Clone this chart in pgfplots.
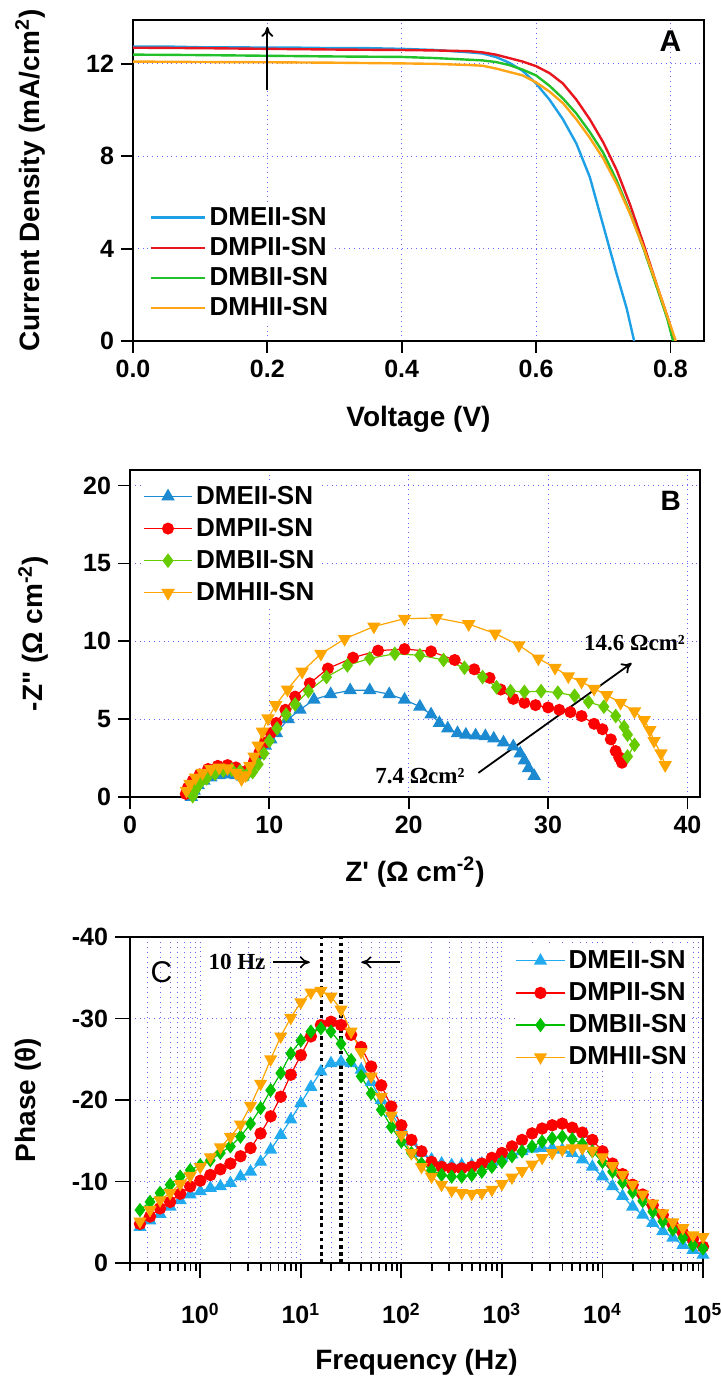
\documentclass[border=0pt]{standalone}
\usepackage{fontspec}
\setmainfont{Liberation Sans}[Ligatures=TeXOff]
\newfontfamily\serifb{Liberation Serif}
\usepackage{pgfplots}
\pgfplotsset{compat=1.18}
\usepackage{pgfplotstable}
\usetikzlibrary{arrows.meta}

\definecolor{aE}{RGB}{30,160,230}
\definecolor{aP}{RGB}{232,23,31}
\definecolor{aB}{RGB}{34,192,42}
\definecolor{aH}{RGB}{255,165,22}
\definecolor{bE}{RGB}{27,138,208}
\definecolor{bP}{RGB}{255,0,0}
\definecolor{bB}{RGB}{102,204,0}
\definecolor{bH}{RGB}{255,165,0}
\definecolor{cE}{RGB}{34,170,238}
\definecolor{cP}{RGB}{255,0,0}
\definecolor{cB}{RGB}{0,192,0}
\definecolor{cH}{RGB}{255,165,0}

\pgfplotstableread{
f E P B H
0.2512 -4.4 -4.8 -6.5 -5.1
0.3162 -5.2 -5.7 -7.5 -6.5
0.3981 -6.0 -6.7 -8.6 -7.7
0.5012 -6.9 -7.5 -9.6 -8.6
0.6310 -7.7 -8.5 -10.6 -9.7
0.7943 -8.4 -9.4 -11.4 -10.7
1 -8.8 -10.1 -12.0 -11.8
1.259 -9.2 -10.8 -12.6 -13.0
1.585 -9.4 -11.5 -13.5 -14.2
1.995 -9.8 -12.2 -14.3 -15.5
2.512 -10.6 -13.1 -15.5 -17.0
3.162 -11.2 -14.1 -17.1 -19.3
3.981 -12.4 -15.9 -19.0 -22.0
5.012 -13.9 -18.0 -21.2 -25.0
6.310 -15.7 -20.4 -23.3 -27.8
7.943 -17.6 -23.1 -25.7 -30.1
10 -19.6 -25.5 -27.3 -32.0
12.59 -21.6 -27.8 -28.4 -33.2
15.85 -23.5 -29.2 -28.8 -33.4
19.95 -24.5 -29.6 -28.4 -32.7
25.12 -24.7 -29.2 -26.9 -31.1
31.62 -24.5 -28.0 -24.9 -28.4
39.81 -23.7 -26.5 -22.9 -25.9
50.12 -22.2 -24.1 -20.8 -22.9
63.10 -20.0 -21.8 -18.8 -20.4
79.43 -18.4 -19.2 -16.7 -18.1
100 -16.5 -16.9 -14.9 -15.7
125.9 -14.9 -15.1 -13.5 -13.5
158.5 -13.5 -13.7 -12.2 -11.8
199.5 -12.7 -12.4 -11.4 -10.6
251.2 -12.2 -11.8 -10.8 -9.6
316.2 -12.0 -11.6 -10.6 -8.9
398.1 -12.0 -11.6 -10.6 -8.6
501.2 -12.0 -11.8 -10.8 -8.5
631.0 -12.2 -12.2 -11.2 -8.6
794.3 -12.4 -12.9 -11.8 -9.0
1000 -12.9 -13.5 -12.4 -9.7
1259 -13.3 -14.3 -13.1 -10.5
1585 -13.7 -15.1 -13.7 -11.3
1995 -14.0 -15.9 -14.3 -12.1
2512 -14.1 -16.5 -14.9 -12.9
3162 -14.1 -16.9 -15.3 -13.5
3981 -13.9 -17.1 -15.5 -13.9
5012 -13.5 -16.6 -15.2 -14.1
6310 -12.7 -16.0 -14.6 -14.1
7943 -11.8 -15.1 -13.7 -13.8
10000 -10.6 -13.7 -12.4 -13.0
12589 -9.4 -12.2 -11.2 -11.9
15849 -8.2 -10.9 -9.9 -10.8
19953 -6.9 -9.6 -8.7 -9.6
25119 -5.9 -8.4 -7.6 -8.4
31623 -4.9 -7.1 -6.3 -7.3
39811 -3.9 -5.9 -5.1 -6.1
50119 -3.1 -4.7 -4.1 -5.0
63096 -2.2 -3.7 -3.1 -4.3
79433 -1.6 -2.9 -2.2 -3.4
100000 -1.0 -2.0 -1.8 -3.2
}\tblC

\pgfplotsset{
  myaxis/.style={
    scale only axis,
    anchor=south west,
    tick align=outside,
    tick pos=left,
    major tick length=6pt,
    every tick/.style={black, line width=0.9pt},
    axis line style={line width=0.9pt},
    tick label style={font=\fontsize{12.5}{14}\selectfont\bfseries},
    /pgf/number format/assume math mode=true,
    label style={font=\fontsize{14}{16}\selectfont\bfseries},
    grid style={blue!60, dotted, line width=0.5pt},
    legend cell align=left,
    legend style={font=\fontsize{13}{15}\selectfont\bfseries, draw=none, fill=white,
      inner sep=0pt, nodes={inner sep=1.5pt}, row sep=2.5pt},
  }
}

\begin{document}
\begin{tikzpicture}
\useasboundingbox (0,0) rectangle (360pt,692.5pt);

% ---------------- Panel A ----------------
\begin{axis}[myaxis,
  at={(66.5pt,522pt)}, width=285.5pt, height=160.5pt,
  xmin=0, xmax=0.85, ymin=0, ymax=13.9,
  xtick={0,0.2,0.4,0.6,0.8}, ytick={0,4,8,12},
  xticklabel style={/pgf/number format/.cd, fixed, fixed zerofill, precision=1},
  grid=major,
  xlabel={Voltage (V)},
  ylabel={Current Density (mA/cm\textsuperscript{2})},
  xlabel style={at={(axis description cs:0.5,-0.245)}, anchor=center},
  ylabel style={at={(axis description cs:-0.18,0.5)}, anchor=center},
  legend image code/.code={\draw[#1, line width=1.2pt] (0cm,0cm) -- (0.95cm,0cm);},
  legend style={at={(axis cs:0.025,5.95)}, anchor=north west, row sep=1.5pt},
]
\addplot[aE, line width=1.2pt] coordinates {(0,12.75) (0.05,12.75) (0.1,12.72) (0.15,12.72) (0.2,12.7) (0.25,12.7) (0.3,12.68) (0.35,12.68) (0.4,12.65) (0.45,12.6) (0.5,12.5) (0.52,12.45) (0.54,12.3) (0.56,12.05) (0.58,11.7) (0.60,11.15) (0.62,10.45) (0.64,9.6) (0.66,8.55) (0.68,7.1) (0.70,5.0) (0.72,2.9) (0.735,1.4) (0.746,0)};
\addplot[aP, line width=1.2pt] coordinates {(0,12.7) (0.1,12.68) (0.2,12.65) (0.3,12.62) (0.4,12.6) (0.45,12.58) (0.5,12.55) (0.52,12.5) (0.54,12.4) (0.56,12.25) (0.58,12.1) (0.60,11.9) (0.62,11.6) (0.64,11.15) (0.66,10.45) (0.68,9.6) (0.70,8.6) (0.72,7.4) (0.74,5.9) (0.76,4.2) (0.78,2.4) (0.795,1.1) (0.807,0)};
\addplot[aB, line width=1.2pt] coordinates {(0,12.4) (0.1,12.38) (0.2,12.35) (0.3,12.32) (0.4,12.3) (0.45,12.25) (0.5,12.18) (0.52,12.15) (0.54,12.08) (0.56,11.95) (0.58,11.75) (0.60,11.5) (0.62,11.05) (0.64,10.5) (0.66,9.85) (0.68,9.05) (0.70,8.15) (0.72,6.95) (0.74,5.55) (0.76,4.0) (0.78,2.3) (0.795,1.0) (0.804,0)};
\addplot[aH, line width=1.2pt] coordinates {(0,12.1) (0.1,12.08) (0.2,12.07) (0.3,12.05) (0.4,12.02) (0.45,12.0) (0.5,11.95) (0.52,11.92) (0.54,11.8) (0.56,11.65) (0.58,11.5) (0.60,11.2) (0.62,10.8) (0.64,10.3) (0.66,9.6) (0.68,8.8) (0.70,7.9) (0.72,6.8) (0.74,5.5) (0.76,4.05) (0.78,2.4) (0.795,1.1) (0.808,0)};
\legend{DMEII-SN, DMPII-SN, DMBII-SN, DMHII-SN}
\draw[-{To[length=5pt,width=6pt]}, line width=0.9pt] (axis cs:0.2,10.85) -- (axis cs:0.2,13.6);
\node[font=\fontsize{15}{17}\selectfont\bfseries] at (axis cs:0.8,13.0) {A};
\end{axis}

% ---------------- Panel B ----------------
\begin{axis}[myaxis,
  at={(65pt,294pt)}, width=285pt, height=163.5pt,
  xmin=0, xmax=40.9, ymin=0, ymax=21,
  xtick={0,10,20,30,40}, ytick={0,5,10,15,20},
  grid=major, clip=false,
  xlabel={Z' (Ω cm\textsuperscript{-2})},
  ylabel={-Z" (Ω cm\textsuperscript{-2})},
  xlabel style={at={(axis description cs:0.5,-0.229)}, anchor=center},
  ylabel style={at={(axis description cs:-0.17,0.5)}, anchor=center},
  legend image code/.code={\draw[mark repeat=2,mark phase=2,#1] plot coordinates {(0cm,0cm)(0.43cm,0cm)(0.86cm,0cm)};},
  legend style={at={(axis cs:0.9,20.2)}, anchor=north west},
]
\addplot[bE, line width=0.6pt, mark=triangle*, mark size=3.3pt] coordinates {(4.4,0.0) (4.6,0.4) (4.9,0.75) (5.3,1.05) (5.8,1.25) (6.4,1.4) (7.0,1.45) (7.6,1.4) (8.1,1.3) (8.5,1.55) (8.9,2.1) (9.3,2.7) (9.7,3.3) (10.1,3.7) (10.5,4.1) (11.35,5.0) (12.2,5.6) (13.2,6.25) (14.4,6.6) (15.8,6.85) (17.2,6.85) (18.6,6.6) (19.7,6.25) (20.8,5.8) (21.6,5.3) (22.2,4.75) (22.8,4.4) (23.5,4.1) (24.1,4.0) (24.8,3.95) (25.5,3.9) (26.1,3.75) (26.8,3.5) (27.5,3.25) (28.0,2.8) (28.3,2.35) (28.6,1.85) (29.0,1.35)};
\addplot[bP, line width=0.6pt, mark=*, mark size=2.7pt] coordinates {(4.0,0.2) (4.15,0.6) (4.5,1.05) (5.0,1.45) (5.6,1.8) (6.3,2.0) (7.0,2.05) (7.6,1.9) (8.1,1.6) (8.5,1.75) (8.9,2.3) (9.3,2.9) (9.7,3.5) (10.1,4.1) (10.5,4.75) (11.15,5.6) (11.85,6.45) (12.9,7.3) (14.2,8.25) (16.0,8.95) (17.8,9.4) (19.7,9.5) (21.6,9.35) (23.3,8.8) (24.7,8.2) (25.8,7.65) (26.6,6.9) (27.5,6.3) (28.3,6.05) (29.1,5.9) (30.0,5.75) (30.8,5.6) (31.6,5.45) (32.4,5.2) (33.3,4.7) (33.9,4.35) (34.5,3.7) (34.85,2.95) (35.1,2.55) (35.3,2.2)};
\addplot[bB, line width=0.6pt, mark=diamond*, mark size=3.2pt] coordinates {(4.5,0.05) (4.7,0.45) (5.0,0.85) (5.5,1.2) (6.1,1.5) (6.7,1.7) (7.3,1.75) (7.9,1.65) (8.4,1.45) (8.8,1.6) (9.2,2.1) (9.6,2.8) (10.0,3.6) (10.55,4.4) (11.2,5.3) (11.85,5.95) (12.8,6.8) (14.1,7.7) (15.6,8.45) (17.2,8.9) (19.0,9.2) (20.8,9.1) (22.5,8.8) (24.0,8.3) (25.3,7.7) (26.3,7.05) (27.3,6.8) (28.3,6.75) (29.5,6.8) (30.7,6.7) (31.9,6.5) (32.9,6.1) (34.0,5.8) (34.85,5.2) (35.45,4.5) (35.7,4.0) (36.2,3.35) (35.7,2.6)};
\addplot[bH, line width=0.6pt, mark=triangle*, mark size=3.3pt, mark options={rotate=180}] coordinates {(4.05,0.4) (4.3,0.85) (4.7,1.25) (5.2,1.55) (5.8,1.8) (6.4,1.9) (7.0,1.85) (7.6,1.55) (8.0,1.15) (8.3,1.4) (8.6,2.0) (8.9,2.6) (9.2,3.3) (9.5,4.2) (9.9,5.05) (10.45,5.9) (11.3,6.9) (12.35,8.05) (13.7,9.2) (15.4,10.15) (17.5,10.95) (19.7,11.45) (22.0,11.5) (24.3,11.1) (26.2,10.5) (27.9,9.75) (29.3,8.9) (30.5,8.3) (31.45,7.75) (32.4,7.4) (33.3,6.95) (34.2,6.55) (35.2,6.05) (36.2,5.5) (36.9,4.95) (37.3,4.3) (37.6,3.6) (38.1,2.8) (38.4,2.05)};
\legend{DMEII-SN, DMPII-SN, DMBII-SN, DMHII-SN}
\draw[-{To[length=5pt,width=6pt]}, line width=0.9pt] (axis cs:25.0,1.55) -- (axis cs:36.0,8.6);
\node[font=\serifb\fontsize{11.5}{13}\selectfont\bfseries] at (axis cs:36.2,9.9) {14.6 Ωcm²};
\node[font=\serifb\fontsize{11.5}{13}\selectfont\bfseries] at (axis cs:20.8,1.35) {7.4 Ωcm²};
\node[font=\fontsize{14}{16}\selectfont\bfseries] at (axis cs:38.8,19.0) {B};
\end{axis}

% ---------------- Panel C ----------------
\begin{axis}[myaxis,
  at={(65pt,61pt)}, width=286.5pt, height=163pt,
  xmode=log, log basis x=10,
  xmin=0.2, xmax=1e5, ymin=-40, ymax=0, y dir=reverse,
  xtick={1,10,100,1000,10000,100000},
  xticklabels={10\textsuperscript{0},10\textsuperscript{1},10\textsuperscript{2},10\textsuperscript{3},10\textsuperscript{4},10\textsuperscript{5}},
  minor xtick={0.2,0.3,0.4,0.5,0.6,0.7,0.8,0.9,2,3,4,5,6,7,8,9,20,30,40,50,60,70,80,90,200,300,400,500,600,700,800,900,2000,3000,4000,5000,6000,7000,8000,9000,20000,30000,40000,50000,60000,70000,80000,90000},
  ytick={-40,-30,-20,-10,0},
  major tick length=7.5pt, minor tick length=4pt,
  xmajorgrids, xminorgrids, ymajorgrids,
  minor grid style={blue!60, dotted, line width=0.5pt},
  clip=false,
  xticklabel style={yshift=-9pt},
  xlabel={Frequency (Hz)},
  ylabel={Phase (θ)},
  xlabel style={at={(axis description cs:0.5,-0.304)}, anchor=center},
  ylabel style={at={(axis description cs:-0.178,0.5)}, anchor=center},
  legend image code/.code={\draw[mark repeat=2,mark phase=2,#1] plot coordinates {(0cm,0cm)(0.43cm,0cm)(0.86cm,0cm)};},
  legend style={at={(axis cs:1350,-38.8)}, anchor=north west},
]
\addplot[cE, line width=0.6pt, mark=triangle*, mark size=3.2pt] table[x=f, y=E] {\tblC};
\addplot[cP, line width=0.6pt, mark=*, mark size=2.8pt] table[x=f, y=P] {\tblC};
\addplot[cB, line width=0.6pt, mark=diamond*, mark size=3.1pt] table[x=f, y=B] {\tblC};
\addplot[cH, line width=0.6pt, mark=triangle*, mark size=3.2pt, mark options={rotate=180}] table[x=f, y=H] {\tblC};
\legend{DMEII-SN, DMPII-SN, DMBII-SN, DMHII-SN}
\draw[line width=1.8pt, dash pattern=on 1.8pt off 1.8pt] (axis cs:16.1,0) -- (axis cs:16.1,-40);
\draw[line width=1.8pt, dash pattern=on 1.8pt off 1.8pt] (axis cs:25.1,0) -- (axis cs:25.1,-40);
\node[font=\serifb\fontsize{11.5}{13}\selectfont\bfseries] at (axis cs:2.32,-36.9) {10 Hz};
\draw[-{To[length=5pt,width=6pt]}, line width=0.8pt] (axis cs:5.3,-36.9) -- (axis cs:12.3,-36.9);
\draw[-{To[length=5pt,width=6pt]}, line width=0.8pt] (axis cs:97,-36.9) -- (axis cs:40,-36.9);
\node[font=\fontsize{15}{17}\selectfont] at (axis cs:0.41,-35.7) {C};
\end{axis}
\end{tikzpicture}
\end{document}
